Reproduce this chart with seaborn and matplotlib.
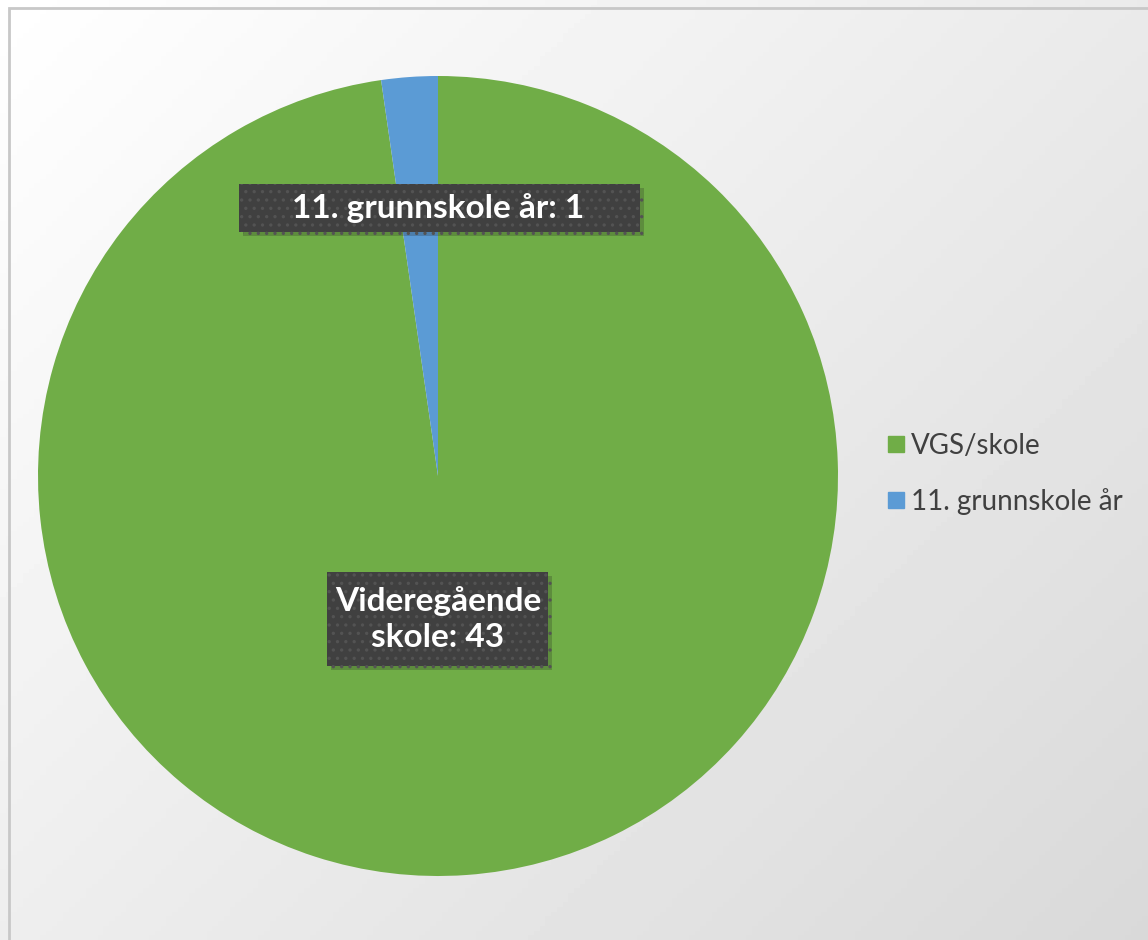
import numpy as np
import seaborn as sns
import matplotlib.pyplot as plt
import matplotlib.patheffects as pe
from matplotlib.patches import Rectangle
from matplotlib.lines import Line2D

sns.set_theme(style="white")
plt.rcParams['font.family'] = ['Lato', 'DejaVu Sans']
plt.rcParams['hatch.linewidth'] = 1.2

# data
legend_names = ["VGS/skole", "11. grunnskole år"]
label_names = ["Videregående\nskole", "11. grunnskole år"]
counts = [43, 1]
colors = ["#70AD47", "#5B9BD5"]

fig = plt.figure(figsize=(11.48, 9.4), dpi=100)

# gradient background
bg = fig.add_axes([0, 0, 1, 1], zorder=-10)
yy, xx = np.mgrid[0:1:200j, 0:1:200j]
grad = 1.0 - 0.15 * (0.55 * xx + 0.45 * yy)
bg.imshow(grad, cmap="gray", vmin=0, vmax=1, extent=[0, 1, 0, 1], aspect="auto", origin="upper")
bg.add_patch(Rectangle((9 / 1148, -0.1), 1.2, 1.1 - 8 / 940, fill=False,
                       edgecolor="#c8c8c8", linewidth=2, transform=bg.transAxes))
bg.set_xlim(0, 1)
bg.set_ylim(0, 1)
bg.axis("off")

ax = fig.add_axes([38 / 1148, (940 - 876) / 940, 800 / 1148, 800 / 940])
wedges, _ = ax.pie(counts, colors=colors, startangle=90, counterclock=False,
                   radius=1, wedgeprops=dict(linewidth=0))
ax.set_xlim(-1, 1)
ax.set_ylim(-1, 1)
ax.set_aspect("equal")
ax.axis("off")

# data labels (box extents in data units, text centre)
boxes = [((-0.2775, -0.475), 0.5525, 0.235, (0.0, -0.3575)),
         ((-0.4975, 0.61), 1.0025, 0.12, (0.0, 0.67))]
shadow = [pe.withSimplePatchShadow(offset=(3, -3), shadow_rgbFace="k", alpha=0.22), pe.Normal()]
for name, n, (xy, w, h, txy) in zip(label_names, counts, boxes):
    r = Rectangle(xy, w, h, facecolor="#404040", edgecolor="#535353", hatch="..",
                  linewidth=0, zorder=3)
    r.set_path_effects(shadow)
    ax.add_patch(r)
    ax.text(txy[0], txy[1], f"{name}: {n}", ha="center", va="center", color="white",
            fontsize=24, fontweight="bold", linespacing=1.32, zorder=4)

handles = [Line2D([], [], marker="s", linestyle="", markersize=12, color=c) for c in colors]
leg = fig.legend(handles, legend_names, loc="center left", bbox_to_anchor=(857 / 1148, 1 - 474 / 940),
                 frameon=False, fontsize=20, handletextpad=0.05, labelspacing=1.05,
                 handlelength=1.0, labelcolor="#404040")

fig.savefig("out.png", dpi=100)
